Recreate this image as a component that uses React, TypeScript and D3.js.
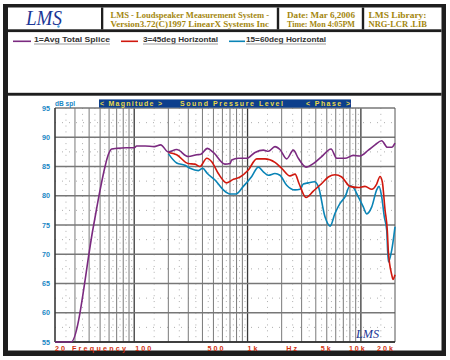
import React from 'react';
import * as d3 from 'd3';

type Pt = [number, number];

const purpleSeries: Pt[] = [
  [20, 55], [27.7, 55], [43.6, 74.7], [50, 81], [55.3, 85], [59, 87], [63.3, 88], [70, 88.1], [85, 88.2],
  [100, 88.2], [105, 88.5], [125, 88.5], [150, 88.4], [171, 88.7], [200, 87.5], [237, 87.9], [300, 86.7],
  [356, 87], [388, 87.1], [442, 88.1], [499, 87.4], [632, 85.4], [700, 85.5], [725, 86.1], [828, 86.4],
  [984, 86.4], [1164, 87.4], [1378, 87.8], [1525, 87.6], [1746, 88.4], [1932, 87.9], [2214, 86.3],
  [2535, 87.8], [2806, 86.4], [3281, 84.9], [3804, 85.5], [4512, 86.7], [5450, 88], [6124, 86.4],
  [7247, 86.4], [8577, 86.9], [9818, 86.8], [11636, 87.8], [13335, 88.7], [15265, 89.4], [17110, 88.3],
  [18715, 88.3], [20000, 89],
];

const redSeries: Pt[] = [
  [200, 87.4], [237, 87], [300, 85.5], [344, 85.4], [380, 85], [437, 86.4], [483, 85.8], [552, 83.8],
  [655, 82.2], [749, 82.8], [858, 83.2], [1016, 84.4], [1205, 86.3], [1426, 86.3], [1746, 85.7],
  [2000, 84.7], [2370, 83.4], [2625, 83.7], [2845, 82.1], [3281, 79.7], [3804, 80.8], [4512, 82.1],
  [5163, 83.2], [5914, 83.6], [6777, 83.2], [8018, 81.6], [9489, 81.4], [10868, 81.6], [12470, 81.1],
  [13784, 82], [14751, 83.3], [15450, 82.4], [16330, 77.6], [17110, 74], [17465, 70.5], [18715, 66.5],
  [19196, 65.7], [20000, 66.5],
];

const blueSeries: Pt[] = [
  [200, 87.2], [237, 85.6], [280, 85.2], [311, 84.7], [368, 84.3], [402, 84.7], [442, 83.8], [516, 82.7],
  [611, 81], [700, 80.3], [791, 80.3], [918, 81.6], [1089, 83.3], [1245, 84.9], [1378, 84.1], [1525, 83.5],
  [1746, 83.8], [1932, 83.5], [2214, 81.8], [2625, 81], [2904, 81.1], [3106, 82], [3438, 82.2],
  [3882, 82.4], [4211, 81.6], [4823, 76.4], [5345, 74.8], [5914, 77], [6547, 78.7], [7247, 79.8],
  [8018, 81.7], [8577, 81.4], [9489, 79.8], [10502, 78.1], [11247, 76.9], [12470, 78.1], [13784, 81],
  [14450, 81.6], [15265, 79.8], [16094, 76.4], [16900, 74.1], [17465, 68.7], [18715, 70.7], [20000, 74.7],
];

const yTicks = [55, 60, 65, 70, 75, 80, 85, 90, 95];
const yHalfTicks = [57.5, 62.5, 67.5, 72.5, 77.5, 82.5, 87.5, 92.5];
const gridFreqs = [
  20, 30, 40, 50, 60, 70, 80, 90, 200, 300, 400, 500, 600, 700, 800, 900,
  2000, 3000, 4000, 5000, 6000, 7000, 8000, 9000,
];
const decadeFreqs = [100, 1000, 10000];
const halfFreqs = [
  25, 35, 45, 55, 65, 75, 85, 95, 150, 250, 350, 450, 550, 650, 750, 850, 950,
  1500, 2500, 3500, 4500, 5500, 6500, 7500, 8500, 9500, 15000,
];
const xLabels: { text: string; f: number; anchor: string; dx: number }[] = [
  { text: '20', f: 20, anchor: 'start', dx: 0 },
  { text: 'Frequency', f: 50, anchor: 'middle', dx: 0 },
  { text: '100', f: 100, anchor: 'start', dx: 1 },
  { text: '500', f: 500, anchor: 'middle', dx: 3 },
  { text: '1k', f: 1000, anchor: 'start', dx: 0 },
  { text: 'Hz', f: 2500, anchor: 'middle', dx: 0 },
  { text: '5k', f: 5000, anchor: 'middle', dx: 0 },
  { text: '10k', f: 10000, anchor: 'middle', dx: -3 },
  { text: '20k', f: 20000, anchor: 'end', dx: 0 },
];
const legendItems = [
  { label: '1=Avg Total Splice', color: '#7b2a80', x1: 13, x2: 31, tx: 34, tw: 76 },
  { label: '3=45deg Horizontal', color: '#d0180e', x1: 121, x2: 138, tx: 143, tw: 75 },
  { label: '15=60deg Horizontal', color: '#0a84b6', x1: 229, x2: 245, tx: 246, tw: 80 },
];

const L = 55, R = 395, T = 108, B = 342;

export default function App() {
  const x = d3.scaleLog().domain([20, 20000]).range([L, R]);
  const y = d3.scaleLinear().domain([55, 95]).range([B, T]);
  const line = d3.line<Pt>().x((d) => x(d[0])).y((d) => y(d[1])).curve(d3.curveMonotoneX);
  const gold = '#a4870e';
  const ser = "'Liberation Serif', 'Times New Roman', serif";
  const sans = "'Liberation Sans', Arial, sans-serif";
  const axisBlue = '#1a86c4';
  const axisRed = '#d0300e';

  return (
    <svg width={450} height={360} style={{ position: 'absolute', left: 0, top: 0 }}>
      <rect x={0} y={0} width={450} height={360} fill="#ffffff" />
      {/* outer frame */}
      <rect x={3} y={4} width={443} height={352} fill="#1e1e1e" />
      <rect x={8} y={7.5} width={433.5} height={343} fill="#ffffff" />
      {/* header separators */}
      <rect x={8} y={29.3} width={433.5} height={2.8} fill="#1e1e1e" />
      <rect x={8} y={92.8} width={433.5} height={2.9} fill="#1e1e1e" />
      <rect x={101} y={7.5} width={2.3} height={22} fill="#1e1e1e" />
      <rect x={276.8} y={7.5} width={2.4} height={22} fill="#1e1e1e" />
      <rect x={361.8} y={7.5} width={2.4} height={22} fill="#1e1e1e" />

      {/* LMS logo */}
      <text x={26} y={25} fontFamily={ser} fontStyle="italic" fontSize={21} fill="#1c3796"
        textLength={36} lengthAdjust="spacingAndGlyphs">LMS</text>
      <circle cx={58.5} cy={26.5} r={1.2} fill="#4aa0e0" />

      {/* header texts */}
      <g fontFamily={ser} fontWeight="bold" fontSize={7.6} fill={gold}>
        <text x={110.5} y={17.8} textLength={158.5} lengthAdjust="spacingAndGlyphs">LMS - Loudspeaker Measurement System -</text>
        <text x={110.5} y={26.8} textLength={158.5} lengthAdjust="spacingAndGlyphs">Version3.72(C)1997 LinearX Systems Inc</text>
        <text x={287} y={17.8} textLength={68} lengthAdjust="spacingAndGlyphs">Date: Mar  6,2006</text>
        <text x={287} y={26.8} textLength={68} lengthAdjust="spacingAndGlyphs">Time: Mon 4:05PM</text>
        <text x={368.5} y={17.8} textLength={58} lengthAdjust="spacingAndGlyphs">LMS Library:</text>
        <text x={368.5} y={26.8} textLength={58.5} lengthAdjust="spacingAndGlyphs">NRG-LCR .LIB</text>
      </g>

      {/* legend */}
      {legendItems.map((it) => (
        <g key={it.label}>
          <line x1={it.x1} x2={it.x2} y1={41.3} y2={41.3} stroke={it.color} strokeWidth={1.6} />
          <text x={it.tx} y={41.8} fontFamily={sans} fontWeight="bold" fontSize={7.6} fill="#333"
            textLength={it.tw} lengthAdjust="spacingAndGlyphs">{it.label}</text>
          <line x1={it.tx} x2={it.tx + it.tw} y1={44} y2={44} stroke="#999" strokeWidth={1} />
        </g>
      ))}

      {/* plot grid */}
      <g>
        {halfFreqs.map((f) => (
          <line key={'h' + f} x1={x(f)} x2={x(f)} y1={T} y2={B} stroke="#9a9a9a" strokeWidth={0.8} strokeDasharray="1 4.85" />
        ))}
        {yHalfTicks.map((v) => (
          <line key={'yh' + v} x1={L} x2={R} y1={y(v)} y2={y(v)} stroke="#9a9a9a" strokeWidth={0.8} strokeDasharray="1 6" />
        ))}
        {gridFreqs.map((f) => (
          <line key={'g' + f} x1={x(f)} x2={x(f)} y1={T} y2={B} stroke="#7a7a7a" strokeWidth={1} />
        ))}
        {decadeFreqs.map((f) => (
          <line key={'d' + f} x1={x(f)} x2={x(f)} y1={T} y2={B} stroke="#3a3a3a" strokeWidth={1.3} />
        ))}
        {yTicks.map((v) => (
          <line key={'y' + v} x1={L} x2={R} y1={y(v)} y2={y(v)} stroke="#777" strokeWidth={1.3} />
        ))}
        <line x1={R} x2={R} y1={T} y2={B} stroke="#555" strokeWidth={1} />
        <line x1={L} x2={L} y1={T} y2={B} stroke="#222" strokeWidth={1.2} />
        <line x1={L} x2={R} y1={B} y2={B} stroke="#222" strokeWidth={1.4} />
      </g>

      {/* banner */}
      <rect x={99} y={99.4} width={252} height={8.2} fill="#0d3f8c" />
      <g fontFamily={sans} fontWeight="bold" fontSize={7} fill="#e8d84a">
        <text x={100} y={106.2} textLength={62} lengthAdjust="spacing">{'< Magnitude >'}</text>
        <text x={180} y={106.2} textLength={103} lengthAdjust="spacing">Sound Pressure Level</text>
        <text x={306} y={106.2} textLength={44} lengthAdjust="spacing">{'< Phase >'}</text>
      </g>

      {/* y axis labels */}
      <text x={55} y={106.3} fontFamily={sans} fontWeight="bold" fontSize={7} fill={axisBlue}
        textLength={20} lengthAdjust="spacingAndGlyphs">dB spl</text>
      {yTicks.map((v) => (
        <text key={'yl' + v} x={50} y={y(v) + 2.6} textAnchor="end" fontFamily={sans} fontWeight="bold"
          fontSize={7.2} fill={axisBlue}>{v}</text>
      ))}

      {/* x axis labels */}
      {xLabels.map((l) => (
        <text key={l.text} x={x(l.f) + l.dx} y={350.5} textAnchor={l.anchor} fontFamily={sans} fontWeight="bold"
          fontSize={7.2} fill={axisRed} letterSpacing={l.text === 'Frequency' ? 2.2 : 2}>{l.text}</text>
      ))}

      {/* curves */}
      <path d={line(blueSeries) || ''} fill="none" stroke="#0a84b6" strokeWidth={1.6} />
      <path d={line(redSeries) || ''} fill="none" stroke="#d0180e" strokeWidth={1.6} />
      <path d={line(purpleSeries) || ''} fill="none" stroke="#7b2a80" strokeWidth={1.6} />

      {/* bottom logo */}
      <text x={356} y={338} fontFamily={ser} fontStyle="italic" fontSize={13} fill="#1c3796"
        textLength={23} lengthAdjust="spacingAndGlyphs">LMS</text>
    </svg>
  );
}
